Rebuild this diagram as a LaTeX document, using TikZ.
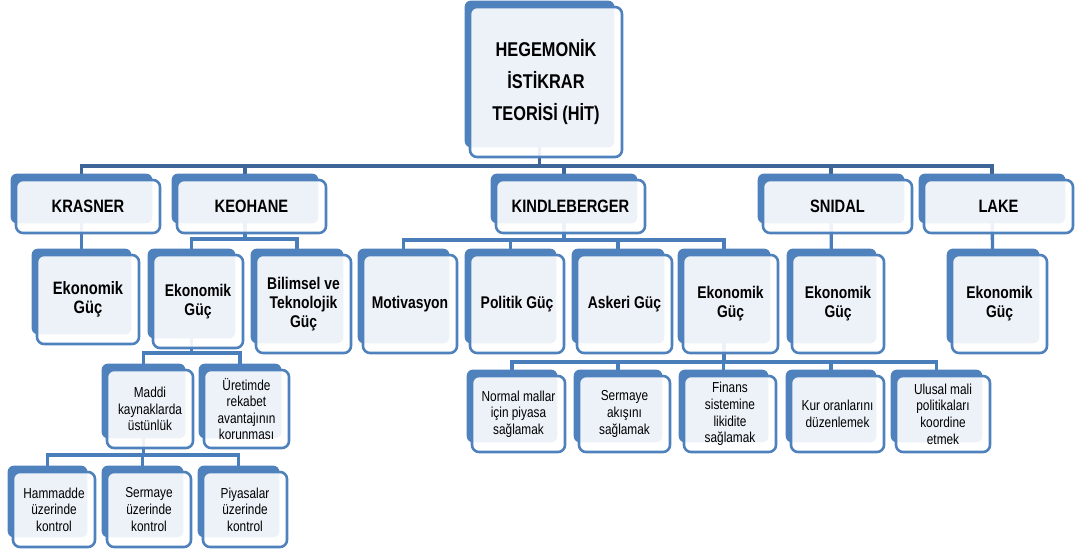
\documentclass[tikz,border=0pt]{standalone}
\usepackage{fontspec}
\setmainfont{Liberation Sans}[FakeStretch=0.82]
\usepackage{tikz}
\definecolor{kutumavi}{HTML}{4F81BD}
\definecolor{bagkoyu}{HTML}{3E6597}
\definecolor{bagacik}{HTML}{4A7EBB}
\pgfdeclarelayer{baglar}
\pgfdeclarelayer{arkalar}
\pgfsetlayers{baglar,arkalar,main}
\tikzset{
  kutu/.style={draw=kutumavi, line width=2.6bp, rounded corners=7bp, fill=white,
    fill opacity=0.9, text opacity=1, align=center, inner sep=0pt},
  kokkutu/.style={kutu, font=\bfseries\fontsize{20}{32}\selectfont},
  ustkutu/.style={kutu, font=\bfseries\fontsize{18}{19.5}\selectfont},
  ortakutu/.style={kutu, font=\bfseries\fontsize{17}{19.3}\selectfont},
  altkutu/.style={kutu, font=\fontsize{14.5}{16.7}\selectfont},
  arka/.style={fill=kutumavi, rounded corners=6bp},
  bagust/.style={draw=bagkoyu, line width=3.8bp, line join=miter},
  bag/.style={draw=bagacik, line width=3.4bp, line join=miter},
}

\begin{document}
\begin{tikzpicture}[x=1bp,y=1bp]
\useasboundingbox (0,0) rectangle (1080,551);
%%
\node (kutu_kok) at (546bp,469bp) [kokkutu,minimum width=152bp,minimum height=150bp] {HEGEMONİK\\İSTİKRAR\\TEORİSİ (HİT)};
  \node (kutu_krasner) at (88bp,344.5bp) [ustkutu,minimum width=144bp,minimum height=53bp] {KRASNER};
  \node (kutu_keohane) at (251.5bp,344.5bp) [ustkutu,minimum width=149bp,minimum height=53bp] {KEOHANE};
  \node (kutu_kindle) at (570.5bp,344.5bp) [ustkutu,minimum width=149bp,minimum height=53bp] {KINDLEBERGER};
  \node (kutu_snidal) at (837.5bp,344.5bp) [ustkutu,minimum width=149bp,minimum height=53bp] {SNIDAL};
  \node (kutu_lake) at (998.5bp,344.5bp) [ustkutu,minimum width=149bp,minimum height=53bp] {LAKE};
  \node (kutu_krek) at (88bp,251.5bp) [ustkutu,minimum width=102bp,minimum height=89bp] {Ekonomik\\Güç};
  \node (kutu_keek) at (198bp,249.5bp) [ortakutu,minimum width=90bp,minimum height=93bp] {Ekonomik\\Güç};
  \node (kutu_bilim) at (303.5bp,247bp) [ortakutu,minimum width=95bp,minimum height=98bp] {Bilimsel ve\\Teknolojik\\Güç};
  \node (kutu_motiv) at (410bp,247bp) [ortakutu,minimum width=94bp,minimum height=98bp] {Motivasyon};
  \node (kutu_politik) at (517bp,247bp) [ortakutu,minimum width=94bp,minimum height=98bp] {Politik Güç};
  \node (kutu_askeri) at (624.5bp,247bp) [ortakutu,minimum width=95bp,minimum height=98bp] {Askeri Güç};
  \node (kutu_kiek) at (730.5bp,247bp) [ortakutu,minimum width=95bp,minimum height=98bp] {Ekonomik\\Güç};
  \node (kutu_snek) at (838bp,247bp) [ortakutu,minimum width=92bp,minimum height=98bp] {Ekonomik\\Güç};
  \node (kutu_laek) at (999.5bp,247bp) [ortakutu,minimum width=95bp,minimum height=98bp] {Ekonomik\\Güç};
  \node (kutu_maddi) at (150bp,142bp) [altkutu,minimum width=86bp,minimum height=78bp] {Maddi\\kaynaklarda\\üstünlük};
  \node (kutu_uretim) at (246.5bp,142bp) [altkutu,minimum width=85bp,minimum height=78bp] {Üretimde\\rekabet\\avantajının\\korunması};
  \node (kutu_normal) at (518.5bp,137bp) [altkutu,minimum width=93bp,minimum height=76bp] {Normal mallar\\için piyasa\\sağlamak};
  \node (kutu_sermayeb) at (624.5bp,137bp) [altkutu,minimum width=91bp,minimum height=76bp] {Sermaye\\akışını\\sağlamak};
  \node (kutu_finans) at (730bp,137bp) [altkutu,minimum width=92bp,minimum height=76bp] {Finans\\sistemine\\likidite\\sağlamak};
  \node (kutu_kur) at (837.5bp,137bp) [altkutu,minimum width=93bp,minimum height=76bp] {Kur oranlarını\\düzenlemek};
  \node (kutu_ulusal) at (943bp,137bp) [altkutu,minimum width=94bp,minimum height=76bp] {Ulusal mali\\politikaları\\koordine\\etmek};
  \node (kutu_hammadde) at (54bp,41.5bp) [altkutu,minimum width=82bp,minimum height=75bp] {Hammadde\\üzerinde\\kontrol};
  \node (kutu_sermayea) at (149bp,41.5bp) [altkutu,minimum width=84bp,minimum height=75bp] {Sermaye\\üzerinde\\kontrol};
  \node (kutu_piyasa) at (245bp,41.5bp) [altkutu,minimum width=84bp,minimum height=75bp] {Piyasalar\\üzerinde\\kontrol};
%
\begin{pgfonlayer}{arkalar}
\foreach \n in {kok,krasner,keohane,kindle,snidal,lake,krek,keek,bilim,motiv,politik,askeri,kiek,snek,laek,maddi,uretim,normal,sermayeb,finans,kur,ulusal,hammadde,sermayea,piyasa}{
  \fill [arka] ([shift={(-4bp,5bp)}]kutu_\n.north west) rectangle ([shift={(-9bp,11bp)}]kutu_\n.south east);
  \coordinate (b_\n) at ([shift={(-6.5bp,8bp)}]kutu_\n.center);
}
\end{pgfonlayer}
%
\coordinate (cizgi_1) at (0bp,385bp);
\coordinate (cizgi_2) at (0bp,312bp);
\coordinate (cizgi_3) at (0bp,311bp);
\coordinate (cizgi_4) at (0bp,198bp);
\coordinate (cizgi_5) at (0bp,189bp);
\coordinate (cizgi_6) at (0bp,96bp);
\begin{pgfonlayer}{baglar}
  \draw [bagust] (b_kok) -- (b_kok |- cizgi_1);
  \draw [bagust] (b_krasner) -- (b_krasner |- cizgi_1) -- (b_lake |- cizgi_1) -- (b_lake);
  \foreach \n in {keohane,kindle,snidal}
    \draw [bagust] (b_\n |- cizgi_1) -- (b_\n);
  \draw [bag] (b_krasner) -- (b_krek);
  \draw [bag] (b_snidal) -- (b_snek);
  \draw [bag] (b_lake) -- (b_laek);
  \draw [bag] (b_keohane) -- (b_keohane |- cizgi_2);
  \draw [bag] (b_keek) -- (b_keek |- cizgi_2) -- (b_bilim |- cizgi_2) -- (b_bilim);
  \draw [bag] (b_kindle) -- (b_kindle |- cizgi_3);
  \draw [bag] (b_motiv) -- (b_motiv |- cizgi_3) -- (b_kiek |- cizgi_3) -- (b_kiek);
  \foreach \n in {politik,askeri}
    \draw [bag] (b_\n |- cizgi_3) -- (b_\n);
  \draw [bag] (b_keek) -- (b_keek |- cizgi_4);
  \draw [bag] (b_maddi) -- (b_maddi |- cizgi_4) -- (b_uretim |- cizgi_4) -- (b_uretim);
  \draw [bag] (b_kiek) -- (b_kiek |- cizgi_5);
  \draw [bag] (b_normal) -- (b_normal |- cizgi_5) -- (b_ulusal |- cizgi_5) -- (b_ulusal);
  \foreach \n in {sermayeb,finans,kur}
    \draw [bag] (b_\n |- cizgi_5) -- (b_\n);
  \draw [bag] (b_maddi) -- (b_maddi |- cizgi_6);
  \draw [bag] (b_hammadde) -- (b_hammadde |- cizgi_6) -- (b_piyasa |- cizgi_6) -- (b_piyasa);
  \draw [bag] (b_sermayea |- cizgi_6) -- (b_sermayea);
\end{pgfonlayer}
%
\end{tikzpicture}
\end{document}
